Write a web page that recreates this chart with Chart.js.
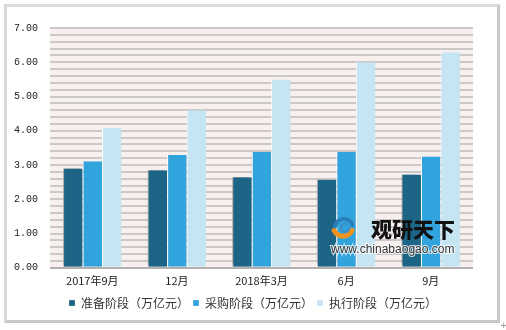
<!DOCTYPE html>
<html>
<head>
<meta charset="utf-8">
<script src="https://cdn.jsdelivr.net/npm/chart.js@4/dist/chart.umd.min.js"></script>
<style>
  html, body { margin: 0; padding: 0; background: #fff; }
  #wrap { position: relative; width: 506px; height: 330px; overflow: hidden; }
  #frame {
    position: absolute; left: 4px; top: 4px; width: 490px; height: 313px;
    border: 3px solid #dadada; border-right-color: #c8c8c8; border-bottom-color: #c8c8c8;
    background: #fff;
  }
  #chart { position: absolute; left: 0; top: 0; }
  #plus { position: absolute; left: 500px; top: 320px; font: 9px "DejaVu Sans"; color: #888; }
</style>
</head>
<body>
<div id="wrap">
  <div id="frame"></div>
  <canvas id="chart" width="506" height="330"></canvas>
  <div id="plus">+</div>
</div>
<script>
// 数据（万亿元）
const categories = ["2017年9月", "12月", "2018年3月", "6月", "9月"];
const seriesNames = ["准备阶段（万亿元）", "采购阶段（万亿元）", "执行阶段（万亿元）"];
const prepValues = [2.90, 2.85, 2.64, 2.57, 2.72];
const buyValues = [3.11, 3.29, 3.38, 3.38, 3.25];
const execValues = [4.08, 4.60, 5.50, 6.00, 6.29];
const yMin = 0, yMax = 7, yStep = 0.2;
const colors = ["#1c6587", "#32a4dd", "#c5e5f3"];

// 绘图区背景
const plotBg = {
  id: "plotBg",
  beforeDraw(chart) {
    const { ctx, chartArea: a } = chart;
    ctx.save();
    ctx.fillStyle = "#f8efef";
    ctx.fillRect(a.left, a.top, a.right - a.left, a.bottom - a.top);
    ctx.restore();
  }
};

// 第一组柱子的阴影
const barShadow = {
  id: "barShadow",
  beforeDatasetDraw(chart, args) {
    if (args.index !== 0) return;
    const ctx = chart.ctx;
    ctx.save();
    ctx.shadowColor = "rgba(0,0,0,0.35)";
    ctx.shadowBlur = 3;
    ctx.shadowOffsetX = -3;
    ctx.shadowOffsetY = -1;
  },
  afterDatasetDraw(chart, args) {
    if (args.index !== 0) return;
    chart.ctx.restore();
  }
};

// 水印
const watermark = {
  id: "watermark",
  afterDatasetsDraw(chart) {
    const ctx = chart.ctx;
    ctx.save();
    // logo
    ctx.lineCap = "round";
    ctx.strokeStyle = "#2a7fb8";
    ctx.lineWidth = 4;
    ctx.beginPath();
    ctx.arc(344, 228, 9, Math.PI * 1.05, Math.PI * 1.9);
    ctx.stroke();
    ctx.strokeStyle = "#f0921e";
    ctx.lineWidth = 5;
    ctx.beginPath();
    ctx.arc(343, 226, 10, Math.PI * 0.15, Math.PI * 0.85);
    ctx.stroke();
    ctx.strokeStyle = "#3a8fc8";
    ctx.lineWidth = 2.5;
    ctx.beginPath();
    ctx.arc(345, 228, 4, 0, Math.PI * 1.6);
    ctx.stroke();
    // 文字
    ctx.fillStyle = "#111";
    ctx.font = "900 21px 'Noto Sans CJK SC'";
    ctx.textBaseline = "middle";
    ctx.fillText("观研天下", 371, 229);
    ctx.fillStyle = "#333";
    ctx.font = "12px 'Liberation Sans'";
    ctx.strokeStyle = "rgba(255,255,255,0.8)";
    ctx.lineWidth = 2;
    ctx.strokeText("www.chinabaogao.com", 331, 250);
    ctx.fillText("www.chinabaogao.com", 331, 250);
    ctx.restore();
  }
};

const makeSet = (label, data, i) => ({
  label: label,
  data: data,
  backgroundColor: colors[i],
  borderColor: "#ffffff",
  borderWidth: { left: 1, right: 0, top: 0, bottom: 0 },
  categoryPercentage: 0.69,
  barPercentage: 1.0
});

new Chart(document.getElementById("chart").getContext("2d"), {
  type: "bar",
  data: {
    labels: categories,
    datasets: [
      makeSet(seriesNames[0], prepValues, 0),
      makeSet(seriesNames[1], buyValues, 1),
      makeSet(seriesNames[2], execValues, 2)
    ]
  },
  options: {
    responsive: false,
    animation: false,
    layout: { padding: { left: 0, right: 0, top: 28, bottom: 11 } },
    plugins: {
      legend: {
        position: "bottom",
        labels: {
          boxWidth: 6, boxHeight: 6, padding: 4,
          color: "#333",
          font: { family: "'Noto Sans CJK SC'", size: 12 }
        }
      },
      tooltip: { enabled: false }
    },
    scales: {
      x: {
        grid: { display: false, drawTicks: false },
        border: { display: false },
        ticks: {
          color: "#222", padding: 6,
          font: { family: "'Noto Sans CJK SC'", size: 11 }
        }
      },
      y: {
        min: yMin, max: yMax,
        afterFit(scale) { scale.width = 50; },
        border: { display: false },
        grid: {
          drawTicks: false,
          lineWidth: 2,
          color: (c) => c.tick && c.tick.value === 0 ? "#b5b0b0" : "#cdc8c8"
        },
        ticks: {
          stepSize: yStep, autoSkip: false, padding: 12,
          color: "#222",
          font: { family: "'Liberation Mono'", size: 10 },
          callback: (v) => Math.abs(v - Math.round(v)) < 1e-6 ? Math.round(v).toFixed(2) : ""
        }
      },
      // 右侧留白
      yRight: {
        position: "right",
        afterFit(scale) { scale.width = 33; },
        grid: { display: false, drawTicks: false },
        border: { display: false },
        ticks: { display: false }
      }
    }
  },
  plugins: [plotBg, barShadow, watermark]
});
</script>
</body>
</html>
